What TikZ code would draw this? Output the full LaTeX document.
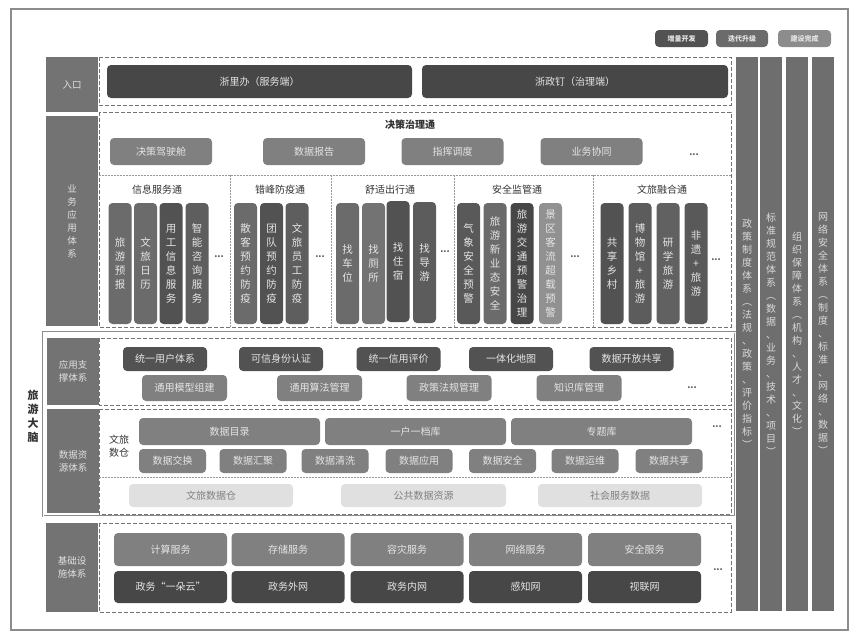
\documentclass[tikz,border=0pt]{standalone}
\usepackage{fontspec}
\setmainfont{Noto Sans CJK SC}
\usepackage{tikz}

\begin{document}
\begin{tikzpicture}[x=1pt, y=-1pt,
  box/.style={rounded corners=4pt, inner sep=0pt, text=black!10, font=\fontsize{10}{12}\selectfont},
  newdev/.style={box, fill=black!68},
  upgrade/.style={box, fill=black!58},
  built/.style={box, fill=black!50},
  plain/.style={box, fill=black!12, text=black!50},
  layer/.style={fill=black!55, text=black!12, inner sep=0pt, minimum width=52pt, align=center, font=\fontsize{9.5}{13}\selectfont},
  vbox/.style={minimum width=23pt, minimum height=121pt, align=center, font=\fontsize{10.5}{14}\selectfont},
  pillar/.style={fill=black!57, text=black!15, inner sep=0pt, minimum width=22pt, minimum height=554pt, align=center, font=\fontsize{10}{13}\selectfont},
  zone/.style={draw=black!55, dash pattern=on 4pt off 2pt, line width=0.9pt},
  split/.style={draw=black!40, dash pattern=on 1.5pt off 1.5pt, line width=0.6pt},
  title/.style={text=black!80, align=center, font=\fontsize{10}{13}\selectfont},
  more/.style={text=black!65, inner sep=0pt, font=\fontsize{9}{10}\selectfont\bfseries}
]
  \useasboundingbox (0,0) rectangle (850,635);
  \draw[black!45, line width=1.2pt] (11,9) rectangle (848,630);

  % Legend
  \node[newdev, minimum width=53pt, minimum height=17pt, font=\fontsize{7}{8}\selectfont\bfseries] (keynew) at (681.5,38.5) {增量开发};
  \node[upgrade, minimum width=52pt, minimum height=17pt, font=\fontsize{7}{8}\selectfont\bfseries] (keyupg) at (742,38.5) {迭代升级};
  \node[built, fill=black!45, minimum width=53pt, minimum height=17pt, font=\fontsize{7}{8}\selectfont\bfseries] (keydone) at (804.5,38.5) {建设完成};

  % Layer labels
  \node[layer, minimum height=55pt] (entry) at (72,84.5) {入口};
  \node[layer, minimum height=210pt] (apps) at (72,221) {业\\务\\应\\用\\体\\系};
  \node[layer, minimum height=67pt] (support) at (73,371.5) {应用支\\撑体系};
  \node[layer, minimum height=104pt] (datares) at (73,461) {数据资\\源体系};
  \node[layer, minimum height=89pt] (infra) at (72,567.5) {基础设\\施体系};
  \node[title, font=\fontsize{11}{14}\selectfont\bfseries] (brain) at (33,416) {旅\\游\\大\\脑};

  % Zones
  \draw[zone] (99,57) rectangle (731,105);
  \draw[zone] (99,112) rectangle (731,327);
  \draw[split] (99,175) -- (731,175);
  \draw[split] (230,175) -- (230,327);
  \draw[split] (331,175) -- (331,327);
  \draw[split] (454,175) -- (454,327);
  \draw[split] (593,175) -- (593,327);
  \draw[black!45, double, double distance=1pt] (43,332) rectangle (735,516);
  \draw[zone] (99,338) rectangle (731,405);
  \draw[zone] (99,409) rectangle (731,514);
  \draw[split] (99,477) -- (731,477);
  \draw[zone] (99,523) rectangle (731,612);

  % Entry
  \node[newdev, fill=black!72, minimum width=305pt, minimum height=33pt] (zlb) at (259.5,81.5) {浙里办（服务端）};
  \node[newdev, fill=black!72, minimum width=306pt, minimum height=33pt] (zzd) at (575,81.5) {浙政钉（治理端）};

  % Decision governance
  \node[title, font=\fontsize{10}{13}\selectfont\bfseries] (jczl) at (410,125) {决策治理通};
  \node[built, minimum width=102pt, minimum height=27pt] (jsc) at (161,151.5) {决策驾驶舱};
  \node[built, minimum width=102pt, minimum height=27pt] (sjbg) at (314,151.5) {数据报告};
  \node[built, minimum width=102pt, minimum height=27pt] (zhdd) at (452.5,151.5) {指挥调度};
  \node[built, minimum width=102pt, minimum height=27pt] (ywxt) at (591.5,151.5) {业务协同};
  \node[more] (jcmore) at (694,155) {...};

  % Service groups
  \node[title] (xxfw) at (157,190) {信息服务通};
  \node[upgrade, vbox] (lyyb) at (120,263.5) {旅\\游\\预\\报};
  \node[upgrade, vbox] (wlrl) at (145.5,263.5) {文\\旅\\日\\历};
  \node[newdev, vbox] (ygxx) at (171,263.5) {用\\工\\信\\息\\服\\务};
  \node[newdev, vbox, fill=black!63] (znzx) at (197,263.5) {智\\能\\咨\\询\\服\\务};
  \node[more] (xxmore) at (219,257) {...};

  \node[title] (cffy) at (280,190) {错峰防疫通};
  \node[upgrade, vbox] (skyy) at (245.5,263.5) {散\\客\\预\\约\\防\\疫};
  \node[newdev, vbox] (tdyy) at (271.5,263.5) {团\\队\\预\\约\\防\\疫};
  \node[newdev, vbox, fill=black!63] (ygfy) at (297,263.5) {文\\旅\\员\\工\\防\\疫};
  \node[more] (cfmore) at (320,257) {...};

  \node[title] (sscx) at (390,190) {舒适出行通};
  \node[upgrade, vbox] (zcw) at (347.5,263.5) {找\\车\\位};
  \node[upgrade, vbox, fill=black!55] (zcs) at (373.5,263.5) {找\\厕\\所};
  \node[newdev, vbox] (zzs) at (398,261.5) {找\\住\\宿};
  \node[newdev, vbox, fill=black!64] (zdy) at (424.5,262.5) {找\\导\\游};
  \node[more] (ssmore) at (445,252) {...};

  \node[title] (aqjg) at (517,190) {安全监管通};
  \node[newdev, vbox, fill=black!65] (qxyj) at (468.5,263.5) {气\\象\\安\\全\\预\\警};
  \node[upgrade, vbox] (xyta) at (495,263.5) {旅\\游\\新\\业\\态\\安\\全};
  \node[newdev, vbox, fill=black!72] (jtyj) at (522,263.5) {旅\\游\\交\\通\\预\\警\\治\\理};
  \node[built, vbox, fill=black!43] (kljz) at (550.5,263.5) {景\\区\\客\\流\\超\\载\\预\\警};
  \node[more] (aqmore) at (575,257) {...};

  \node[title] (wlrh) at (662,190) {文旅融合通};
  \node[newdev, vbox] (gxxc) at (612,263.5) {共\\享\\乡\\村};
  \node[newdev, vbox, fill=black!64] (bwg) at (640,263.5) {博\\物\\馆\\+\\旅\\游};
  \node[upgrade, vbox, fill=black!62] (yxly) at (668,263.5) {研\\学\\旅\\游};
  \node[newdev, vbox, fill=black!65] (fyly) at (696,263.5) {非\\遗\\+\\旅\\游};
  \node[more] (wlmore) at (716,260) {...};

  % Application support
  \node[newdev, minimum width=84pt, minimum height=24pt] (tyyh) at (165,359) {统一用户体系};
  \node[newdev, minimum width=84pt, minimum height=24pt] (kxsf) at (281,359) {可信身份认证};
  \node[newdev, minimum width=84pt, minimum height=24pt] (tyxy) at (398.5,359) {统一信用评价};
  \node[newdev, minimum width=84pt, minimum height=24pt] (ythdt) at (511,359) {一体化地图};
  \node[newdev, minimum width=84pt, minimum height=24pt] (kfgx) at (631.5,359) {数据开放共享};
  \node[built, minimum width=85pt, minimum height=26pt] (mxzj) at (184.5,388) {通用模型组建};
  \node[built, minimum width=85pt, minimum height=26pt] (sfgl) at (319.5,388) {通用算法管理};
  \node[built, minimum width=85pt, minimum height=26pt] (zcfg) at (449,388) {政策法规管理};
  \node[built, minimum width=85pt, minimum height=26pt] (zskg) at (579,388) {知识库管理};
  \node[more] (zcmore) at (692,388) {...};

  % Data resources
  \node[title] (wlsc) at (119,446) {文旅\\数仓};
  \node[built, minimum width=181pt, minimum height=27pt] (sjml) at (229.5,431.5) {数据目录};
  \node[built, minimum width=181pt, minimum height=27pt] (yhyd) at (415.5,431.5) {一户一档库};
  \node[built, minimum width=181pt, minimum height=27pt] (ztk) at (601.5,431.5) {专题库};
  \node[more] (sjmore) at (717,427) {...};
  \node[built, minimum width=67pt, minimum height=24pt] (sjjh) at (172.5,461) {数据交换};
  \node[built, minimum width=67pt, minimum height=24pt] (sjhj) at (253,461) {数据汇聚};
  \node[built, minimum width=67pt, minimum height=24pt] (sjqx) at (335,461) {数据清洗};
  \node[built, minimum width=67pt, minimum height=24pt] (sjyy) at (419,461) {数据应用};
  \node[built, minimum width=67pt, minimum height=24pt] (sjaq) at (502.5,461) {数据安全};
  \node[built, minimum width=67pt, minimum height=24pt] (sjyw) at (585,461) {数据运维};
  \node[built, minimum width=67pt, minimum height=24pt] (sjgx) at (669,461) {数据共享};
  \node[plain, minimum width=164pt, minimum height=23pt] (wlsjc) at (211,495.5) {文旅数据仓};
  \node[plain, minimum width=165pt, minimum height=23pt] (ggsj) at (423.5,495.5) {公共数据资源};
  \node[plain, minimum width=164pt, minimum height=23pt] (shfw) at (620,495.5) {社会服务数据};

  % Infrastructure
  \node[built, minimum width=113pt, minimum height=33pt] (jsfw) at (170.5,549.5) {计算服务};
  \node[built, minimum width=113pt, minimum height=33pt] (ccfw) at (288,549.5) {存储服务};
  \node[built, minimum width=113pt, minimum height=33pt] (zzfw) at (407,549.5) {容灾服务};
  \node[built, minimum width=113pt, minimum height=33pt] (wlfw) at (525.5,549.5) {网络服务};
  \node[built, minimum width=113pt, minimum height=33pt] (aqfw) at (644.5,549.5) {安全服务};
  \node[newdev, fill=black!72, minimum width=113pt, minimum height=32pt] (ydy) at (170.5,587) {政务“一朵云”};
  \node[newdev, fill=black!72, minimum width=113pt, minimum height=32pt] (zwww) at (288,587) {政务外网};
  \node[newdev, fill=black!72, minimum width=113pt, minimum height=32pt] (zwnw) at (407,587) {政务内网};
  \node[newdev, fill=black!72, minimum width=113pt, minimum height=32pt] (gzw) at (525.5,587) {感知网};
  \node[newdev, fill=black!72, minimum width=113pt, minimum height=32pt] (slw) at (644.5,587) {视联网};
  \node[more] (jcsmore) at (718,570) {...};

  % Guarantee pillars
  \node[pillar] (zczd) at (747,334) {政\\策\\制\\度\\体\\系\\︵\\法\\规\\、\\政\\策\\、\\评\\价\\指\\标\\︶};
  \node[pillar] (bzgf) at (771,334) {标\\准\\规\\范\\体\\系\\︵\\数\\据\\、\\业\\务\\、\\技\\术\\、\\项\\目\\︶};
  \node[pillar] (zzbz) at (797,334) {组\\织\\保\\障\\体\\系\\︵\\机\\构\\、\\人\\才\\、\\文\\化\\︶};
  \node[pillar] (wlaq) at (823,334) {网\\络\\安\\全\\体\\系\\︵\\制\\度\\、\\标\\准\\、\\网\\络\\、\\数\\据\\︶};
\end{tikzpicture}
\end{document}
